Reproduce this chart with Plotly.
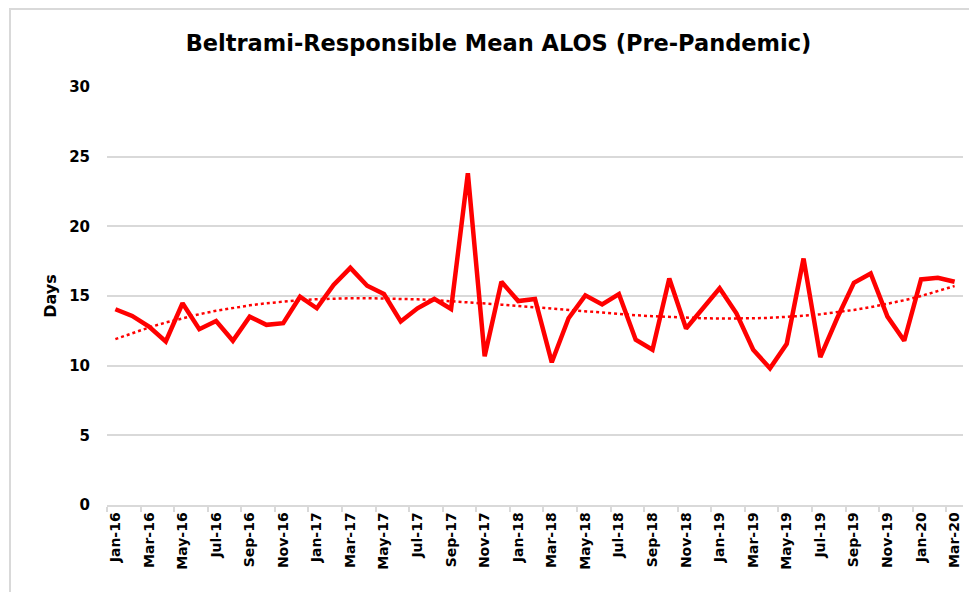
import numpy as np
import plotly.graph_objects as go

months = ["Jan", "Feb", "Mar", "Apr", "May", "Jun", "Jul", "Aug", "Sep", "Oct", "Nov", "Dec"]
categories = [f"{m}-{y}" for y in ["16", "17", "18", "19"] for m in months] + ["Jan-20", "Feb-20", "Mar-20"]

alos = [14.05, 13.57, 12.8, 11.74, 14.48, 12.62, 13.2, 11.79, 13.52, 12.93, 13.05, 14.95,
        14.12, 15.79, 17.02, 15.74, 15.14, 13.17, 14.12, 14.79, 14.07, 23.81, 10.67, 16.02,
        14.64, 14.79, 10.24, 13.4, 15.05, 14.4, 15.14, 11.86, 11.14, 16.26, 12.67, 14.12,
        15.55, 13.76, 11.14, 9.81, 11.57, 17.69, 10.62, 13.4, 15.95, 16.62, 13.52, 11.79,
        16.19, 16.31, 16.02]

y_ticks = [0, 5, 10, 15, 20, 25, 30]

# polynomial trendline (as in the original spreadsheet chart)
idx = np.arange(1, len(alos) + 1)
coef = np.polyfit(idx, alos, 3)
trend = np.polyval(coef, idx)

font_family = "'DejaVu Sans', sans-serif"
W, H = 969, 584
L, R, T, B = 99, 14, 79, 87
pw, ph = W - L - R, H - T - B

fig = go.Figure()
fig.add_trace(go.Scatter(x=categories, y=alos, mode="lines",
                         line=dict(color="#FF0000", width=4.5), showlegend=False))
fig.add_trace(go.Scatter(x=categories, y=trend, mode="lines",
                         line=dict(color="#FF0000", width=2.5, dash="dot"), showlegend=False))

fig.update_layout(
    width=W, height=H,
    margin=dict(l=L, r=R, t=T, b=B, autoexpand=False),
    paper_bgcolor="white", plot_bgcolor="white",
    title=dict(text="Beltrami-Responsible Mean ALOS (Pre-Pandemic)",
               x=490.5 / W, xanchor="center", y=1 - 35 / H, yanchor="middle",
               font=dict(family=font_family, size=22.5, color="black", weight="bold")),
    font=dict(family=font_family, color="black"),
    xaxis=dict(type="category", tickmode="linear", tick0=0, dtick=2, tickson="boundaries",
               tickangle=-90, tickfont=dict(size=14, family=font_family, weight="bold"),
               showgrid=False, showline=True, linecolor="#d9d9d9", linewidth=1.5,
               ticks="outside", ticklen=5, tickcolor="#d9d9d9", tickwidth=1.5,
               range=[-0.5, len(categories) - 0.5]),
    yaxis=dict(range=[0, 30], tickvals=y_ticks, showgrid=True,
               gridcolor="#d9d9d9", gridwidth=1.5, zeroline=False,
               tickfont=dict(size=15, family=font_family, weight="bold"),
               ticks="", ticklabelstandoff=16,
               title=dict(text="Days", font=dict(size=16, family=font_family, weight="bold"),
                          standoff=8)),
    shapes=[dict(type="rect", xref="paper", yref="paper",
                 x0=(2 - L) / pw, x1=(W + 20 - L) / pw, y0=-(B + 20) / ph, y1=1 + (T - 1) / ph,
                 line=dict(color="#d9d9d9", width=2), fillcolor="rgba(0,0,0,0)", layer="below")],
)

fig.write_html("out.html")
